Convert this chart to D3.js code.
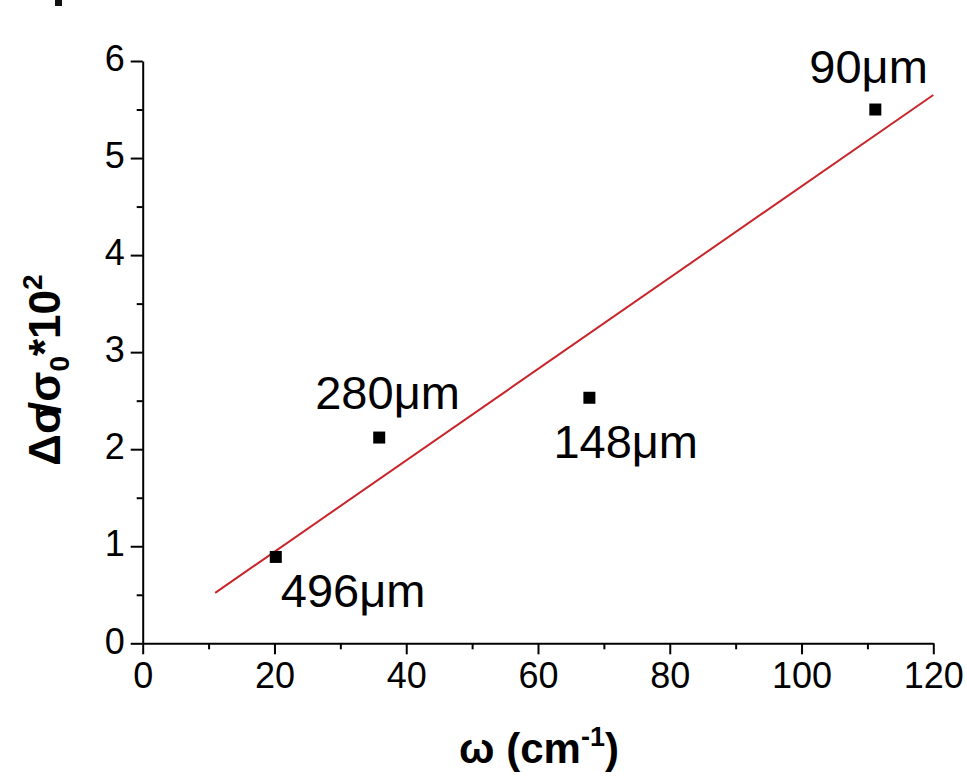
<!DOCTYPE html>
<html>
<head>
<meta charset="utf-8">
<script src="https://cdn.jsdelivr.net/npm/d3@7"></script>
<style>
    html, body { margin: 0; padding: 0; background: #fff; }
    svg { display: block; font-family: "Liberation Sans", Arial, sans-serif; }
</style>
</head>
<body>
<div id="d3_graph"></div>
<script>
// data
const omega = [20.2, 35.9, 67.8, 111.2];          // cm^-1
const deltaSigma = [0.89, 2.12, 2.53, 5.50];      // Δσ/σ0 * 10^2
const sampleLabels = ["496μm", "280μm", "148μm", "90μm"];

// linear fit line (end points)
const fitOmega = [11, 120];
const fitSigma = [0.52, 5.65];

// axis ticks
const xTicks = [0, 20, 40, 60, 80, 100, 120];
const xMinorTicks = [10, 30, 50, 70, 90, 110];
const yTicks = [0, 1, 2, 3, 4, 5, 6];
const yMinorTicks = [0.5, 1.5, 2.5, 3.5, 4.5, 5.5];

document.addEventListener("DOMContentLoaded", function () {
    drawGraph();
});

function drawGraph(){
    const width = 967, height = 776;

    d3.select("#d3_graph").html("");

    const svg = d3.select("#d3_graph")
        .append("svg")
        .attr("width", width)
        .attr("height", height);

    // scales
    const x = d3.scaleLinear().domain([0, 120]).range([142.7, 933.3]);
    const y = d3.scaleLinear().domain([0, 6]).range([643.3, 61]);

    // stray marker piece in the top left corner of the original
    svg.append("rect")
        .attr("x", 55).attr("y", -1)
        .attr("width", 7).attr("height", 7)
        .attr("fill", "#111");

    // minor ticks first, so the main axes draw over them
    svg.append("g")
        .attr("transform", `translate(0, ${y(0)})`)
        .call(d3.axisBottom(x).tickValues(xMinorTicks).tickSize(6).tickSizeOuter(0).tickFormat(""))
        .call(g => g.select(".domain").remove())
        .selectAll("line").attr("stroke", "#000").attr("stroke-width", 2);

    svg.append("g")
        .attr("transform", `translate(${x(0)}, 0)`)
        .call(d3.axisLeft(y).tickValues(yMinorTicks).tickSize(6).tickSizeOuter(0).tickFormat(""))
        .call(g => g.select(".domain").remove())
        .selectAll("line").attr("stroke", "#000").attr("stroke-width", 2);

    // tick label look: plain sans, a bit taller than wide like the original
    const styleTickText = sel => sel
        .attr("fill", "#000")
        .style("font-size", "36px")
        .style("font-family", "'Liberation Sans', Arial, sans-serif");

    // X axis
    const xAxis = svg.append("g")
        .attr("transform", `translate(0, ${y(0)})`)
        .call(d3.axisBottom(x).tickValues(xTicks).tickSize(11).tickSizeOuter(0).tickFormat(d3.format("d")));
    xAxis.select(".domain").attr("stroke", "#000").attr("stroke-width", 2);
    xAxis.selectAll("line").attr("stroke", "#000").attr("stroke-width", 2);
    xAxis.selectAll("text")
        .attr("y", 45)
        .attr("dy", null)
        .call(styleTickText);

    // Y axis
    const yAxis = svg.append("g")
        .attr("transform", `translate(${x(0)}, 0)`)
        .call(d3.axisLeft(y).tickValues(yTicks).tickSize(12).tickSizeOuter(0).tickFormat(d3.format("d")));
    yAxis.select(".domain").attr("stroke", "#000").attr("stroke-width", 2);
    yAxis.selectAll("line").attr("stroke", "#000").attr("stroke-width", 2);
    yAxis.selectAll("text")
        .attr("x", -18)
        .attr("dy", "0.27em")
        .call(styleTickText);

    // fit line
    const line = d3.line()
        .x(d => x(d[0]))
        .y(d => y(d[1]));

    svg.append("path")
        .datum(d3.zip(fitOmega, fitSigma))
        .attr("d", line)
        .attr("fill", "none")
        .attr("stroke", "#c8262b")
        .attr("stroke-width", 2);

    // data points
    const points = d3.zip(omega, deltaSigma, sampleLabels);
    const size = 12;

    svg.selectAll("rect.pt")
        .data(points)
        .join("rect")
        .attr("class", "pt")
        .attr("x", d => x(d[0]) - size / 2)
        .attr("y", d => y(d[1]) - size / 2)
        .attr("width", size)
        .attr("height", size)
        .attr("fill", "#000");

    // sample labels, placed next to their point like in the original
    const labelOffsets = [[5, 50.5], [-64, -28.5], [-36, 60], [-66, -27]];

    svg.selectAll("text.lbl")
        .data(points)
        .join("text")
        .attr("class", "lbl")
        .attr("x", (d, i) => x(d[0]) + labelOffsets[i][0])
        .attr("y", (d, i) => y(d[1]) + labelOffsets[i][1])
        .attr("fill", "#000")
        .style("font-size", "47px")
        .text(d => d[2]);

    // X axis title
    const xTitle = svg.append("text")
        .attr("x", 539)
        .attr("y", 763)
        .attr("text-anchor", "middle")
        .style("font-size", "42px")
        .style("font-weight", "bold");
    xTitle.append("tspan").text("ω (cm");
    xTitle.append("tspan").attr("dy", -17).style("font-size", "27px").text("-1");
    xTitle.append("tspan").attr("dy", 17).text(")");

    // Y axis title
    const yTitle = svg.append("text")
        .attr("transform", "translate(60, 370) rotate(-90)")
        .attr("text-anchor", "middle")
        .style("font-size", "44px")
        .style("font-weight", "bold");
    yTitle.append("tspan").text("Δσ");
    yTitle.append("tspan").attr("dx", -10).text("/σ");
    yTitle.append("tspan").attr("dy", 9).style("font-size", "28px").text("0");
    yTitle.append("tspan").attr("dy", -9).text("*10");
    yTitle.append("tspan").attr("dy", -18).style("font-size", "28px").text("2");
}
</script>
</body>
</html>
